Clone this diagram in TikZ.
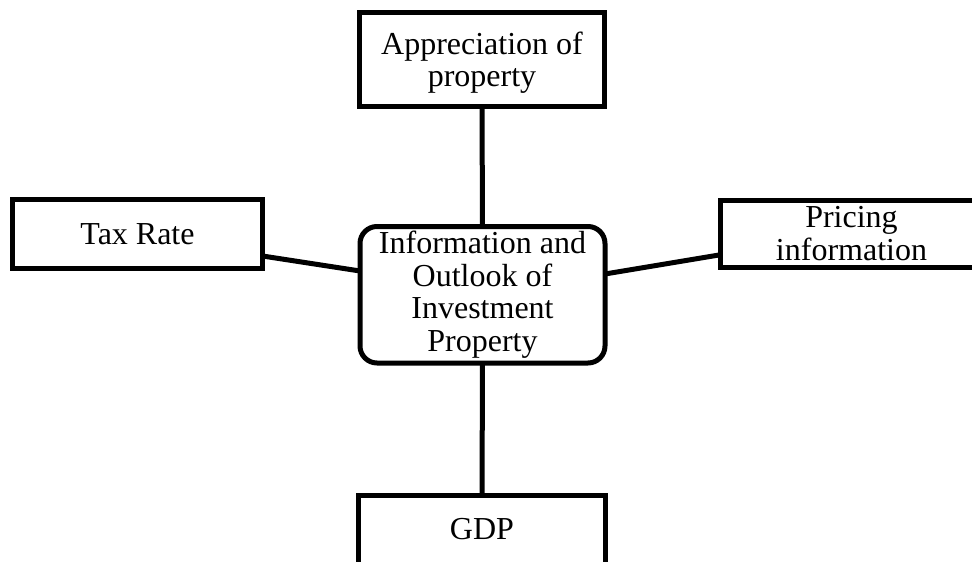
\documentclass[tikz,border=0pt]{standalone}
\usepackage{fontspec}
\setmainfont{Liberation Serif}
\usetikzlibrary{calc}
\begin{document}
\begin{tikzpicture}[x=1pt,y=-1pt,
  every node/.style={font=\fontsize{32}{32.5}\selectfont, align=center, inner sep=0pt, outer sep=0pt},
  box/.style={draw, line width=5pt, fill=white},
  rbox/.style={box, rounded corners=17pt},
  link/.style={line width=5pt}]
\useasboundingbox (0,0) rectangle (972,562);
\clip (0,0) rectangle (972,562);
\node[box, minimum width=245pt, minimum height=94pt] (top) at (482,59.5) {\raisebox{-3pt}[\height][\depth]{\parbox{240pt}{\centering Appreciation of\\property}}};
\node[box, minimum width=250pt, minimum height=69pt] (tax) at (137.5,234) {Tax Rate};
\node[rbox, minimum width=245pt, minimum height=136.5pt] (ctr) at (482.5,294.75) {Information and\\Outlook of\\Investment\\Property};
\node[box, minimum width=262pt, minimum height=67.5pt] (price) at (851.5,233.75) {Pricing\\information};
\node[box, minimum width=247pt, minimum height=69pt] (gdp) at (482,529.5) {GDP};
\draw[link] (top.south) -- (ctr.north);
\draw[link] (ctr.south) -- (gdp.north);
\draw[link] ($(tax.east)+(0,22)$) -- ($(ctr.west)+(0,-23.75)$);
\draw[link] ($(ctr.east)+(0,-20.75)$) -- ($(price.west)+(0,21)$);
\end{tikzpicture}
\end{document}
